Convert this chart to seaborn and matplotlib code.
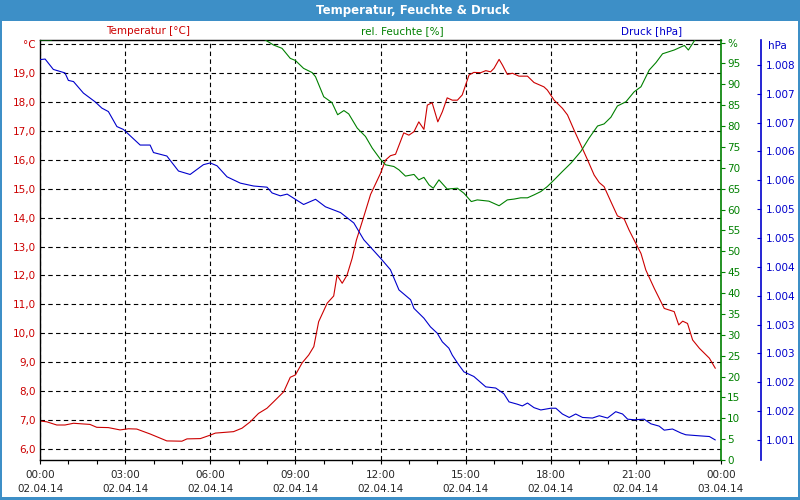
import matplotlib
matplotlib.use("Agg")
import matplotlib.pyplot as plt
import seaborn as sns
from matplotlib.patches import Rectangle
from matplotlib.ticker import FixedLocator, MultipleLocator

sns.set_style("white")
plt.rcParams['font.family'] = ['DejaVu Sans']

# ---------------- data ----------------
temp_hours = [0.00, 0.24, 0.59, 0.88, 1.18, 1.76, 2.00, 2.41, 2.82, 3.12, 3.41, 3.88, 4.47, 5.00,
              5.18, 5.65, 6.00, 6.18, 6.82, 7.12, 7.41, 7.70, 8.00, 8.23, 8.59, 8.82, 9.00, 9.24,
              9.47, 9.65, 9.82, 10.12, 10.35, 10.47, 10.65, 10.82, 11.00, 11.15, 11.40, 11.65,
              12.00, 12.18, 12.35, 12.53, 12.82, 13.00, 13.18, 13.35, 13.53, 13.65, 13.82, 14.02,
              14.18, 14.35, 14.53, 14.71, 14.88, 15.12, 15.29, 15.53, 15.71, 15.88, 16.00, 16.18,
              16.30, 16.47, 16.65, 16.88, 17.18, 17.41, 17.76, 17.88, 18.12, 18.41, 18.59, 18.82,
              19.06, 19.30, 19.53, 19.71, 19.88, 20.12, 20.35, 20.59, 20.76, 20.94, 21.18, 21.35,
              21.65, 22.00, 22.35, 22.51, 22.65, 22.82, 23.00, 23.24, 23.59, 23.80]
temp_values = [6.97, 6.94, 6.83, 6.83, 6.89, 6.85, 6.75, 6.74, 6.66, 6.70, 6.69, 6.52, 6.28, 6.27,
               6.35, 6.36, 6.48, 6.55, 6.60, 6.72, 6.94, 7.23, 7.41, 7.63, 7.98, 8.48, 8.56, 8.98,
               9.25, 9.54, 10.40, 11.04, 11.29, 12.01, 11.73, 12.01, 12.59, 13.22, 14.00, 14.80,
               15.53, 15.99, 16.14, 16.19, 16.93, 16.85, 16.97, 17.31, 17.05, 17.89, 17.97, 17.31,
               17.66, 18.14, 18.06, 18.06, 18.24, 18.93, 19.02, 19.01, 19.08, 19.04, 19.16, 19.47,
               19.27, 18.95, 18.99, 18.89, 18.89, 18.67, 18.52, 18.41, 18.06, 17.78, 17.55, 17.03,
               16.51, 15.99, 15.47, 15.21, 15.07, 14.55, 14.06, 13.95, 13.57, 13.22, 12.76, 12.19,
               11.55, 10.86, 10.75, 10.29, 10.42, 10.34, 9.77, 9.48, 9.14, 8.79]

hum_hours = [0.00, 0.40, 0.60, 7.70, 7.94, 8.23, 8.53, 8.82, 9.00, 9.29, 9.59, 9.71, 10.00, 10.29,
             10.49, 10.71, 10.88, 11.18, 11.47, 11.71, 12.00, 12.18, 12.47, 12.65, 12.88, 13.18,
             13.35, 13.53, 13.71, 13.86, 14.06, 14.35, 14.71, 14.94, 15.20, 15.41, 15.82, 16.18,
             16.47, 16.71, 16.94, 17.18, 17.41, 17.65, 17.88, 18.12, 18.41, 18.71, 19.06, 19.35,
             19.65, 19.88, 20.12, 20.35, 20.65, 20.94, 21.18, 21.47, 21.71, 21.94, 22.35, 22.71,
             22.85, 23.08, 23.30, 23.80]
hum_values = [100.6, 100.6, 101.5, 101.5, 100.6, 99.4, 98.6, 96.2, 95.7, 93.8, 92.8, 91.8, 87.0, 85.6,
              82.7, 83.7, 82.9, 79.5, 77.5, 74.7, 72.0, 70.7, 70.3, 69.5, 68.0, 68.4,
              67.1, 67.7, 65.9, 65.1, 67.1, 64.9, 65.1, 63.9, 61.9, 62.3, 62.0, 60.9,
              62.3, 62.5, 62.8, 62.8, 63.5, 64.3, 65.5, 67.1, 69.1, 71.1, 73.9, 77.1,
              80.0, 80.5, 82.1, 84.8, 85.8, 88.2, 89.4, 93.4, 95.2, 97.3, 98.2, 99.3,
              98.2, 100.6, 101.5, 101.5]

press_hours = [0.00, 0.18, 0.47, 0.88, 1.00, 1.18, 1.53, 1.94, 2.18, 2.41, 2.71, 2.94, 3.53, 3.88,
               4.00, 4.47, 4.88, 5.29, 5.76, 6.00, 6.24, 6.59, 7.06, 7.53, 8.00, 8.18, 8.47, 8.71,
               9.29, 9.71, 10.06, 10.59, 11.06, 11.41, 12.00, 12.35, 12.65, 13.06, 13.18, 13.53,
               13.76, 14.00, 14.18, 14.41, 14.53, 14.76, 14.94, 15.29, 15.71, 16.06, 16.35, 16.53,
               16.82, 17.00, 17.18, 17.41, 17.65, 18.00, 18.18, 18.41, 18.65, 18.88, 19.12, 19.47,
               19.71, 20.00, 20.29, 20.53, 20.71, 20.94, 21.29, 21.53, 21.82, 22.00, 22.29, 22.59,
               22.76, 23.29, 23.59, 23.80]
press_values = [1007.59, 1007.60, 1007.42, 1007.36, 1007.23, 1007.21, 1007.01, 1006.86, 1006.75,
                1006.69, 1006.43, 1006.38, 1006.11, 1006.11, 1005.98, 1005.92, 1005.66, 1005.60,
                1005.77, 1005.80, 1005.75, 1005.56, 1005.45, 1005.40, 1005.38, 1005.28, 1005.23,
                1005.26, 1005.08, 1005.17, 1005.04, 1004.94, 1004.76, 1004.47, 1004.15, 1003.95,
                1003.60, 1003.43, 1003.28, 1003.11, 1002.96, 1002.85, 1002.70, 1002.59, 1002.47,
                1002.30, 1002.18, 1002.10, 1001.92, 1001.90, 1001.80, 1001.66, 1001.62, 1001.59,
                1001.64, 1001.56, 1001.52, 1001.55, 1001.55, 1001.45, 1001.39, 1001.45, 1001.39,
                1001.38, 1001.42, 1001.38, 1001.49, 1001.45, 1001.36, 1001.35, 1001.36, 1001.28,
                1001.24, 1001.17, 1001.19, 1001.12, 1001.09, 1001.07, 1001.06, 1001.00]

x_ticks = [0, 3, 6, 9, 12, 15, 18, 21, 24]
x_tick_labels = ["00:00\n02.04.14", "03:00\n02.04.14", "06:00\n02.04.14", "09:00\n02.04.14",
                 "12:00\n02.04.14", "15:00\n02.04.14", "18:00\n02.04.14", "21:00\n02.04.14",
                 "00:00\n03.04.14"]
temp_ticks = [6, 7, 8, 9, 10, 11, 12, 13, 14, 15, 16, 17, 18, 19, 20]
temp_tick_labels = ["6,0", "7,0", "8,0", "9,0", "10,0", "11,0", "12,0", "13,0", "14,0",
                    "15,0", "16,0", "17,0", "18,0", "19,0", "°C"]
hum_ticks = [0, 5, 10, 15, 20, 25, 30, 35, 40, 45, 50, 55, 60, 65, 70, 75, 80, 85, 90, 95, 100]
hum_tick_labels = ["0", "5", "10", "15", "20", "25", "30", "35", "40", "45", "50", "55", "60",
                   "65", "70", "75", "80", "85", "90", "95", "%"]
press_ticks = [1001.0, 1001.5, 1002.0, 1002.5, 1003.0, 1003.5, 1004.0, 1004.5, 1005.0, 1005.5,
               1006.0, 1006.5, 1007.0, 1007.5]
press_tick_labels = ["1.001", "1.002", "1.002", "1.003", "1.003", "1.004", "1.004", "1.005",
                     "1.005", "1.006", "1.006", "1.007", "1.007", "1.008"]

title = "Temperatur, Feuchte & Druck"
series_names = ["Temperatur [°C]", "rel. Feuchte [%]", "Druck [hPa]"]

# ---------------- style ----------------
FRAME = "#3d8fc7"
RED = "#cc0000"
GREEN = "#008000"
BLUE = "#0000cc"
FS = 7.5
W, H = 800, 500

fig = plt.figure(figsize=(8, 5), dpi=100)
fig.patch.set_facecolor(FRAME)
fig.patches.append(Rectangle((2 / W, 3 / H), 796 / W, (497 - 21) / H,
                             transform=fig.transFigure, facecolor="white",
                             edgecolor="none", zorder=-5))
fig.text(413 / W, 1 - 10.5 / H, title, color="white", fontsize=8.5, fontweight="bold",
         ha="center", va="center")
for name, col, xc in zip(series_names, [RED, GREEN, BLUE], [148, 402, 652]):
    fig.text(xc / W, 1 - 31 / H, name, color=col, fontsize=FS, ha="center", va="center")

ax = fig.add_axes([40 / W, 40 / H, 681 / W, 420 / H])
ax.set_facecolor("white")
ax2 = ax.twinx()
ax3 = ax.twinx()

sns.lineplot(x=temp_hours, y=temp_values, ax=ax, color=RED, linewidth=0.8)
sns.lineplot(x=hum_hours, y=hum_values, ax=ax2, color=GREEN, linewidth=0.8)
sns.lineplot(x=press_hours, y=press_values, ax=ax3, color=BLUE, linewidth=0.8)

# x axis
ax.set_xlim(0, 24)
ax.xaxis.set_major_locator(FixedLocator(x_ticks))
ax.set_xticklabels(x_tick_labels, linespacing=1.55)
ax.xaxis.set_minor_locator(MultipleLocator(1))
ax.tick_params(axis="x", which="both", direction="out", length=3, width=0.8,
               color="black", labelsize=FS, pad=4, bottom=True)

# temperature axis
ax.set_ylim(5.62, 20.14)
ax.yaxis.set_major_locator(FixedLocator(temp_ticks))
ax.set_yticklabels(temp_tick_labels)
ax.tick_params(axis="y", length=0, labelsize=FS, labelcolor=RED, pad=3)
ax.grid(True, which="major", color="black", linestyle=(0, (4, 3)), linewidth=0.8)
for s in ["left", "bottom", "top"]:
    ax.spines[s].set_visible(True)
    ax.spines[s].set_color("black")
    ax.spines[s].set_linewidth(1)
ax.spines["right"].set_visible(False)
ax.set_xlabel("")
ax.set_ylabel("")

# humidity axis
ax2.set_ylim(0, 100.6)
ax2.yaxis.set_major_locator(FixedLocator(hum_ticks))
ax2.set_yticklabels(hum_tick_labels)
ax2.tick_params(axis="y", direction="out", length=3, width=0.8, color=GREEN,
                labelcolor=GREEN, labelsize=FS, pad=1.5)
for s in ["left", "bottom", "top"]:
    ax2.spines[s].set_visible(False)
ax2.spines["right"].set_visible(True)
ax2.spines["right"].set_color(GREEN)
ax2.spines["right"].set_linewidth(1.2)
ax2.grid(False)
ax2.set_ylabel("")

# pressure axis
ax3.set_ylim(1000.653, 1007.93)
ax3.yaxis.set_major_locator(FixedLocator(press_ticks))
ax3.set_yticklabels(press_tick_labels)
ax3.tick_params(axis="y", direction="in", length=3, width=0.8, color=BLUE,
                labelcolor=BLUE, labelsize=FS, pad=3.5)
for s in ["left", "bottom", "top"]:
    ax3.spines[s].set_visible(False)
ax3.spines["right"].set_visible(True)
ax3.spines["right"].set_position(("outward", 29))
ax3.spines["right"].set_color(BLUE)
ax3.spines["right"].set_linewidth(1.2)
ax3.grid(False)
ax3.set_ylabel("")
ax3.text(1.0, 1007.83, "hPa", transform=ax3.get_yaxis_transform(), color=BLUE,
         fontsize=FS, ha="left", va="center")

for a in (ax, ax2, ax3):
    a.patch.set_alpha(0 if a is not ax else 1)

fig.canvas.draw()
# place hPa just right of the outward spine
import matplotlib.transforms as mtransforms
off = mtransforms.ScaledTranslation(34 / 72, 0, fig.dpi_scale_trans)
ax3.texts[0].set_transform(ax3.get_yaxis_transform() + off)

fig.savefig("out.png", dpi=100, facecolor=fig.get_facecolor())
